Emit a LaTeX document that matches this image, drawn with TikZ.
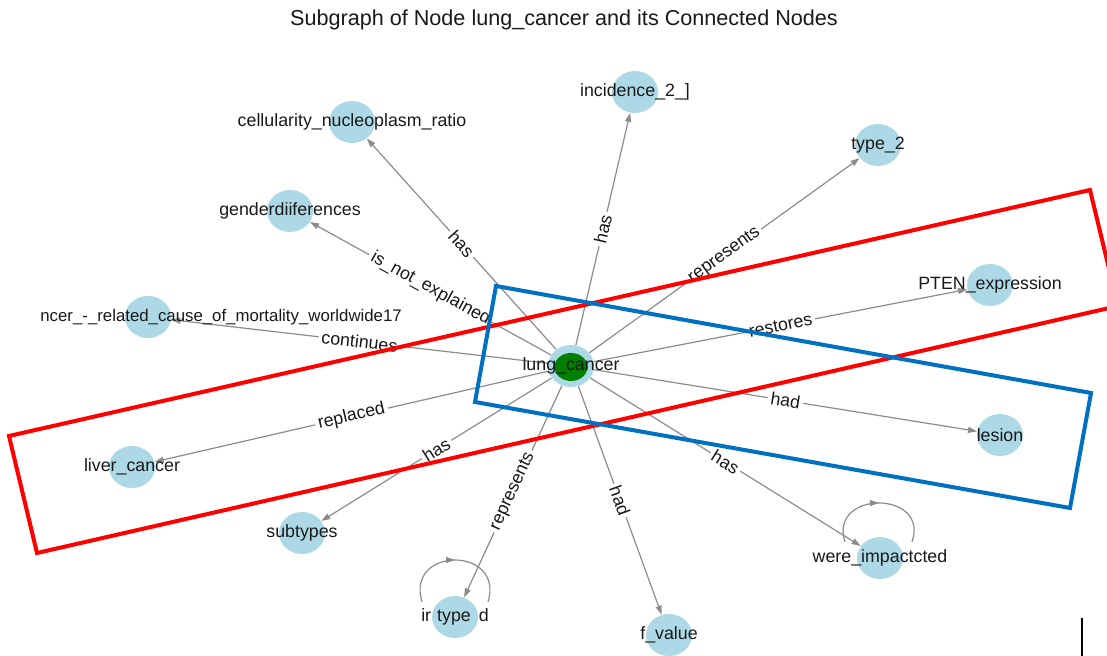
\documentclass[tikz,border=0pt]{standalone}
\usepackage{fontspec}
\setmainfont{Liberation Sans}
\usetikzlibrary{arrows.meta,shapes.geometric,decorations.markings}
\definecolor{nodeblue}{HTML}{ADD8E6}
\definecolor{edgegray}{HTML}{8C8C8C}
\definecolor{boxblue}{HTML}{0070C0}
\definecolor{nodegreen}{HTML}{008000}
\begin{document}
\begin{tikzpicture}[x=0.5pt,y=-0.5pt,
 nd/.style={ellipse, fill=nodeblue, minimum width=23pt, minimum height=21pt, inner sep=0pt},
 lbl/.style={font=\fontsize{8.9}{10}\selectfont, text=black!90, inner sep=0pt},
 edge/.style={draw=edgegray, line width=0.6pt, -{Triangle[length=4.5pt,width=3pt]}},
 elbl/.style={font=\fontsize{8.9}{10}\selectfont, fill=white, inner sep=1.5pt, sloped, text=black!90},
 loopedge/.style={draw=edgegray, line width=0.6pt, postaction={decorate},
   decoration={markings, mark=at position 0.5 with {\arrow{Triangle[length=4.5pt,width=3pt]}}}},
 hibox/.style={line width=2pt, line join=miter},
 ]
\clip (0,0) rectangle (1107,656);
\fill[white] (0,0) rectangle (1107,656);

% title
\node[font=\fontsize{10.8}{12}\selectfont, text=black!90] (title) at (564,20) {Subgraph of Node lung\_cancer and its Connected Nodes};

% nodes
\node[nd] (lc) at (571,366) {};
\node[ellipse, fill=nodegreen, minimum width=16.5pt, minimum height=14pt, inner sep=0pt] (lcin) at (571,367) {};
\node[nd] (cell) at (352,122) {};
\node[nd] (inc) at (635,92) {};
\node[nd] (typ2) at (878,145) {};
\node[nd] (gend) at (290,211) {};
\node[nd] (pten) at (990,285) {};
\node[nd] (canc) at (148,317) {};
\node[nd] (liver) at (132,467) {};
\node[nd] (les) at (1000,435) {};
\node[nd] (sub) at (302,533) {};
\node[nd] (typ) at (455,617) {};
\node[nd] (fval) at (669,635) {};
\node[nd] (were) at (880,558) {};

% edges
\draw[edge] (lc) -- node[elbl] {has} (cell);
\draw[edge] (lc) -- node[elbl] {has} (inc);
\draw[edge] (lc) -- node[elbl] {represents} (typ2);
\draw[edge] (lc) -- node[elbl] {is\_not\_explained} (gend);
\draw[edge] (lc) -- node[elbl] {restores} (pten);
\draw[edge] (lc) -- node[elbl] {continues} (canc);
\draw[edge] (lc) -- node[elbl] {replaced} (liver);
\draw[edge] (lc) -- node[elbl] {had} (les);
\draw[edge] (lc) -- node[elbl] {has} (sub);
\draw[edge] (lc) -- node[elbl] {represents} (typ);
\draw[edge] (lc) -- node[elbl] {had} (fval);
\draw[edge] (lc) -- node[elbl] {has} (were);

% self loops
\coordinate (typL) at (422,602);
\coordinate (typR) at (488,602);
\draw[loopedge] (typL) .. controls (405,546) and (505,546) .. (typR);
\coordinate (wereL) at (845,542);
\coordinate (wereR) at (912,542);
\draw[loopedge] (wereL) .. controls (828,490) and (930,490) .. (wereR);

% node labels
\node[lbl] (lc-t) at (lc) {lung\_cancer};
\node[lbl] (cell-t) at (cell) {cellularity\_nucleoplasm\_ratio};
\node[lbl] (inc-t) at (inc) {incidence\_2\_]};
\node[lbl] (typ2-t) at (typ2) {type\_2};
\node[lbl] (gend-t) at (gend) {genderdiiferences};
\node[lbl] (pten-t) at (pten) {PTEN\_expression};
\node[lbl, anchor=west, font=\fontsize{8.4}{10}\selectfont] (canc-t) at (40,317) {ncer\_-\_related\_cause\_of\_mortality\_worldwide17};
\node[lbl] (liver-t) at (liver) {liver\_cancer};
\node[lbl] (les-t) at (les) {lesion};
\node[lbl] (sub-t) at (sub) {subtypes};
\node[lbl] (typ-t) at (typ) {ir\hspace{3pt}type\hspace{4pt}d};
\node[lbl] (fval-t) at (fval) {f\_value};
\node[lbl] (were-t) at (were) {were\_impactcted};

% highlight boxes
\draw[hibox, red] (9,436) -- (1090,190) -- (1118,306) -- (37,553) -- cycle;
\draw[hibox, boxblue] (496,286) -- (1091,393) -- (1070,508) -- (475,402) -- cycle;

% stray mark
\draw[black, line width=1pt] (1082,618) -- (1082,656);
\end{tikzpicture}
\end{document}
